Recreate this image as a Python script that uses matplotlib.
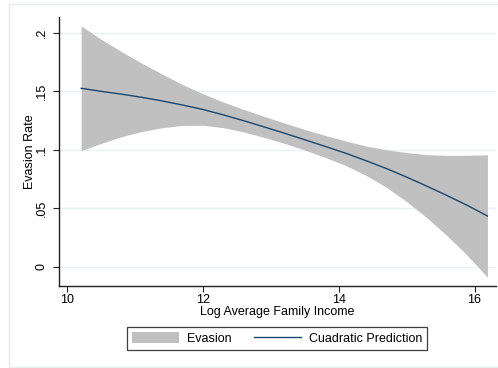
import matplotlib
matplotlib.use("Agg")
import matplotlib.pyplot as plt
from matplotlib.patches import Rectangle, Patch
from matplotlib.lines import Line2D

plt.rcParams['font.family'] = ['Liberation Sans', 'DejaVu Sans']

# Quadratic prediction of evasion rate with its confidence band
income = [10.21, 10.5, 10.8, 11.1, 11.4, 11.7, 12.0, 12.3, 12.6, 12.9, 13.2,
          13.5, 13.8, 14.1, 14.4, 14.7, 15.0, 15.3, 15.6, 15.9, 16.19]
fit = [0.1527, 0.1501, 0.1477, 0.1450, 0.1419, 0.1384, 0.1346, 0.1300, 0.1250,
       0.1197, 0.1143, 0.1087, 0.1030, 0.0972, 0.0908, 0.0841, 0.0767, 0.0689,
       0.0608, 0.0523, 0.0434]
upper = [0.2061, 0.1948, 0.1842, 0.1743, 0.1649, 0.1559, 0.1481, 0.1410, 0.1346,
         0.1287, 0.1230, 0.1175, 0.1124, 0.1077, 0.1033, 0.1001, 0.0977, 0.0959,
         0.0953, 0.0953, 0.0958]
lower = [0.0993, 0.1054, 0.1112, 0.1157, 0.1189, 0.1209, 0.1211, 0.1190, 0.1154,
         0.1107, 0.1056, 0.0999, 0.0936, 0.0867, 0.0783, 0.0681, 0.0557, 0.0419,
         0.0263, 0.0093, -0.0090]

yticks = [0, 0.05, 0.10, 0.15, 0.20]
ytick_labels = ["0", ".05", ".1", ".15", ".2"]
xticks = [10, 12, 14, 16]
xtick_labels = ["10", "12", "14", "16"]

band_color = "#c0c0c0"
line_color = "#1a476f"
grid_color = "#eaf2f3"
fs = 9

fig = plt.figure(figsize=(4.98, 3.68), dpi=100, facecolor="white")

# faint outer frame of the graph region
fig.patches.append(Rectangle((9 / 498, 1 - 367 / 368), 1.0, 363 / 368,
                             transform=fig.transFigure, fill=False,
                             edgecolor="#e3ecee", linewidth=1.0))

ax = fig.add_axes([58.7 / 498, 1 - 286 / 368, (495.6 - 58.7) / 498, (286 - 17) / 368])
ax.set_facecolor("white")

ax.fill_between(income, lower, upper, color=band_color, linewidth=0, zorder=2)
ax.plot(income, fit, color=line_color, linewidth=1.0, zorder=3)

ax.set_xlim(9.88, 16.31)
ax.set_ylim(-0.0165, 0.2137)

ax.set_yticks(yticks)
ax.set_yticklabels(ytick_labels, rotation=90, va="center", fontsize=fs)
ax.set_xticks(xticks)
ax.set_xticklabels(xtick_labels, fontsize=fs)

for y in yticks:
    ax.axhline(y, color=grid_color, linewidth=1.0, zorder=1)

for side in ("top", "right"):
    ax.spines[side].set_visible(False)
for side in ("left", "bottom"):
    ax.spines[side].set_color("#222222")
    ax.spines[side].set_linewidth(1.0)

ax.tick_params(axis="y", length=4.3, width=0.8, color="#222222", pad=3.5)
ax.tick_params(axis="x", length=4.5, width=0.8, color="#222222", pad=1.5)

ax.set_xlabel("Log Average Family Income", fontsize=fs, labelpad=0)
ax.set_ylabel("Evasion Rate", fontsize=fs, labelpad=0)

handles = [Patch(facecolor=band_color, edgecolor="none"),
           Line2D([0], [0], color=line_color, linewidth=1.0)]
leg = fig.legend(handles, ["Evasion", "Cuadratic Prediction"], ncol=2,
                 loc="center", bbox_to_anchor=(277 / 498, 1 - 338.5 / 368),
                 fontsize=fs, frameon=True, fancybox=False,
                 handlelength=3.8, handleheight=0.95, handletextpad=0.64,
                 columnspacing=1.75, borderpad=0.4, borderaxespad=0)
leg.get_frame().set_edgecolor("#111111")
leg.get_frame().set_linewidth(0.9)

fig.savefig("out.png", dpi=100, facecolor="white")
